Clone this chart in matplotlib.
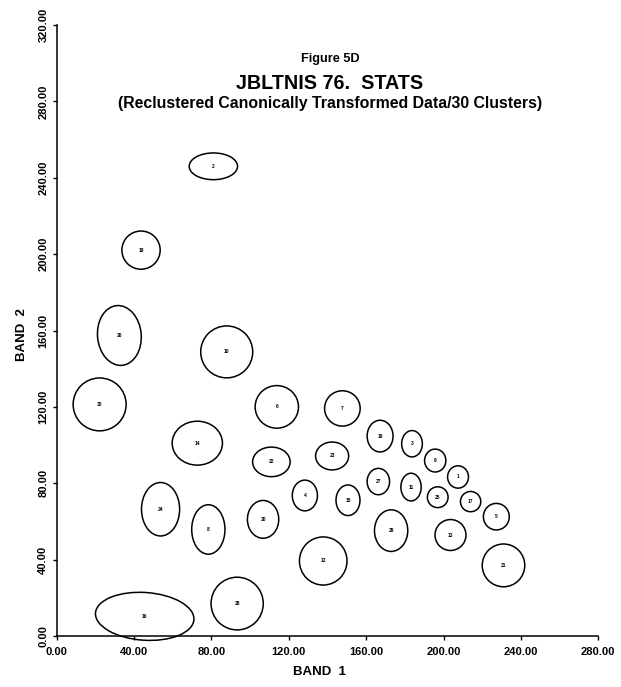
import numpy as np
import matplotlib
matplotlib.use("Agg")
import matplotlib.pyplot as plt
from matplotlib.patches import Ellipse

# cluster ellipses: number, centre (band1, band2), width, height
cluster = [1, 2, 3, 4, 5, 6, 7, 8, 9, 10,
           11, 12, 13, 14, 15, 16, 17, 18, 19, 20,
           21, 22, 23, 24, 25, 26, 27, 28, 29, 30]
band1 = [207.5, 81.0, 183.7, 128.3, 227.3, 113.8, 147.7, 78.4, 195.7, 87.9,
         183.2, 137.8, 203.6, 72.7, 150.6, 45.5, 214.0, 43.6, 167.2, 106.7,
         231.0, 111.0, 142.4, 53.7, 197.0, 32.4, 166.3, 93.3, 172.9, 22.2]
band2 = [83.3, 246.0, 100.7, 73.6, 62.5, 120.0, 119.2, 55.8, 91.9, 148.8,
         78.0, 39.3, 52.9, 101.0, 71.1, 10.3, 70.4, 202.1, 104.7, 61.1,
         37.0, 91.2, 94.3, 66.4, 72.7, 157.4, 80.9, 17.0, 55.2, 121.3]
width = [10.8, 25.0, 10.7, 13.0, 13.4, 22.4, 18.4, 17.2, 11.0, 26.9,
         10.5, 24.6, 16.0, 26.0, 12.4, 51.0, 10.5, 19.8, 13.4, 16.2,
         22.0, 19.4, 17.1, 19.7, 10.7, 22.6, 11.6, 27.0, 17.2, 27.4]
height = [11.7, 14.0, 13.8, 16.1, 13.9, 22.3, 18.5, 25.9, 12.0, 27.2,
          14.5, 25.2, 16.2, 23.0, 16.0, 25.0, 10.6, 20.0, 16.6, 19.8,
          22.4, 15.5, 14.6, 28.0, 10.9, 31.4, 13.8, 27.6, 21.8, 27.7]
angle = [0, 0, 0, 0, 0, 0, 0, 0, 0, 0,
         0, 0, 0, 0, 0, -4, 0, 0, 0, 0,
         0, 0, 0, 0, 0, 5, 0, 0, 0, 0]

xticks = np.arange(0, 281, 40)
yticks = np.arange(0, 321, 40)

plt.rcParams['font.family'] = ['Liberation Sans', 'DejaVu Sans']

fig = plt.figure(figsize=(6.21, 6.87), dpi=100)
ax = fig.add_axes([0.0913, 0.0742, 0.8721, 0.8894])

for i in range(len(cluster)):
    e = Ellipse((band1[i], band2[i]), width[i], height[i], angle=angle[i],
                fill=False, edgecolor='black', linewidth=1.1, clip_on=False)
    ax.add_patch(e)
    ax.text(band1[i], band2[i], str(cluster[i]), ha='center', va='center',
            fontsize=3.5, fontweight='bold')

ax.set_xlim(0, 280)
ax.set_ylim(0, 320)
ax.set_xticks(xticks)
ax.set_yticks(yticks)
ax.set_xticklabels(['%.2f' % v for v in xticks], fontsize=8, fontweight='bold')
ax.set_yticklabels(['%.2f' % v for v in yticks], fontsize=8, fontweight='bold',
                   rotation=90, va='center')
ax.tick_params(direction='out', length=3, width=1)
ax.tick_params(axis='x', pad=5)
ax.tick_params(axis='y', pad=3)
ax.spines['top'].set_visible(False)
ax.spines['right'].set_visible(False)
ax.spines['left'].set_linewidth(1.1)
ax.spines['bottom'].set_linewidth(1.1)

fig.text(319 / 621, 1 - 672 / 687, 'BAND  1', ha='center', va='center',
         fontsize=9.5, fontweight='bold')
fig.text(22 / 621, 1 - 335 / 687, 'BAND  2', ha='center', va='center',
         fontsize=9.5, fontweight='bold', rotation=90)

ax.text(141.3, 302, 'Figure 5D', ha='center', va='center', fontsize=9.2, fontweight='bold')
ax.text(141.3, 289.5, 'JBLTNIS 76.  STATS', ha='center', va='center', fontsize=14.2, fontweight='bold')
ax.text(141.3, 279, '(Reclustered Canonically Transformed Data/30 Clusters)',
        ha='center', va='center', fontsize=11.4, fontweight='bold')

fig.savefig('out.png', dpi=100)
